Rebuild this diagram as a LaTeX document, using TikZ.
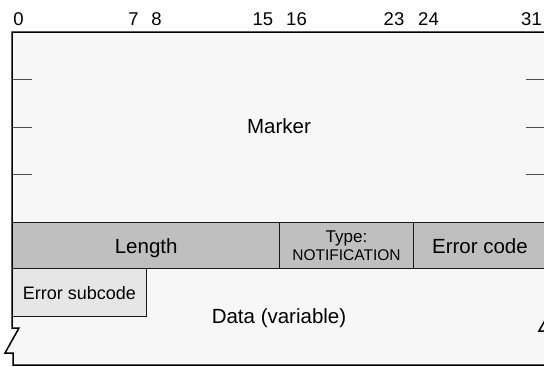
\documentclass[tikz,border=0pt]{standalone}
\usepackage{fontspec}
\setmainfont{Liberation Sans}
\usepackage{xcolor}
\definecolor{paleback}{HTML}{F7F7F7}
\definecolor{fieldgray}{HTML}{BFBFBF}
\definecolor{subgray}{HTML}{E6E6E6}
\newcommand{\fieldfont}{\fontsize{20.5}{24}\selectfont}

\begin{document}
\begin{tikzpicture}[x=1pt, y=-1pt,
  field/.style={draw=black!90, line width=1.4pt, inner sep=0pt, anchor=north west,
    font=\fieldfont, text height=15pt, text depth=0pt},
  bitnum/.style={font=\fontsize{18.5}{20}\selectfont, anchor=base}]
  \useasboundingbox (0,0) rectangle (544,367);
  \clip (0,0) rectangle (544,367);
  % pixel coordinates, y grows downward, one byte = 133.5
  \foreach \b/\xx in {0/18.5, 7/133.5, 8/156.5, 15/263, 16/296.5, 23/394, 24/428.5, 31/531.5}
    { \node[bitnum] (bit\b) at (\xx,25) {\b}; }
  \fill[paleback] (12,32) -- (546,32) -- (546,306) -- (553,306) -- (539,331) -- (547,331)
    -- (547,365) -- (13,365) -- (13,353) -- (5,353) -- (19,328) -- (12,328) -- cycle;
  \foreach \y in {79.5, 127, 174.5}
    { \draw[black!70, line width=1pt] (12,\y) -- (32,\y) (526,\y) -- (546,\y); }
  \node[font=\fieldfont, anchor=base] (marker) at (279,133) {Marker};
  \node[field, fill=fieldgray, minimum width=267pt, minimum height=46pt] (length) at (12,222) {Length};
  \node[field, fill=fieldgray, minimum width=133.5pt, minimum height=46pt, text height={}, text depth={},
    align=center, font=\fontsize{17}{18}\selectfont] (type) at (279,222)
    {Type:\\{\fontsize{15.5}{18}\selectfont NOTIFICATION}};
  \node[field, fill=fieldgray, minimum width=133.5pt, minimum height=46pt] (errcode) at (412.5,222) {Error code};
  \node[field, fill=subgray, minimum width=133.5pt, minimum height=48pt, font=\fontsize{18}{20}\selectfont,
    text height=13pt] (subcode) at (12,268) {Error subcode};
  \node[font=\fieldfont, anchor=base] (data) at (279,323) {Data (variable)};
  \draw[line width=1.5pt] (12,328) -- (12,32) -- (546,32) -- (546,306) -- (553,306) -- (539,331)
    -- (547,331) -- (547,365) -- (13,365) -- (13,353) -- (5,353) -- (19,328) -- cycle;
\end{tikzpicture}
\end{document}
